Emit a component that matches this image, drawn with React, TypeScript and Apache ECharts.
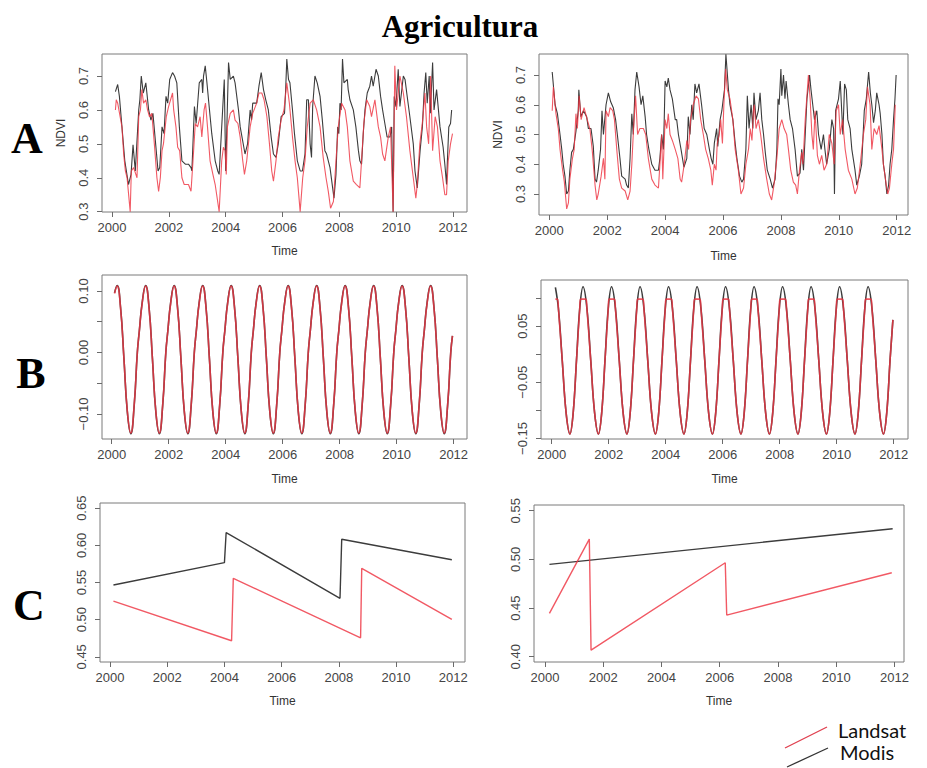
import React, { useEffect, useRef } from "react";
import * as echarts from "echarts";

// ---- tick values ----
const yearTicks = [2000, 2002, 2004, 2006, 2008, 2010, 2012];
const ticksA = [0.3, 0.4, 0.5, 0.6, 0.7];
const ticksB1 = [-0.1, -0.05, 0, 0.05, 0.1];
const labelsB1 = [-0.1, 0, 0.1];
const ticksB2 = [-0.15, -0.1, -0.05, 0, 0.05, 0.1];
const labelsB2 = [-0.15, -0.05, 0.05];
const ticksC1 = [0.45, 0.5, 0.55, 0.6, 0.65];
const ticksC2 = [0.4, 0.45, 0.5, 0.55];

// ---- A: NDVI series (left) ----
const modisA1: number[][] = [[2000.12,0.654],[2000.20,0.675],[2000.26,0.640],[2000.35,0.55],[2000.45,0.45],[2000.58,0.38],[2000.67,0.41],[2000.74,0.497],[2000.82,0.42],[2000.94,0.60],[2000.98,0.63],[2001.03,0.70],[2001.10,0.65],[2001.19,0.68],[2001.29,0.60],[2001.37,0.57],[2001.44,0.59],[2001.62,0.42],[2001.68,0.43],[2001.76,0.55],[2001.83,0.53],[2001.90,0.64],[2001.96,0.62],[2002.03,0.69],[2002.13,0.71],[2002.20,0.70],[2002.28,0.68],[2002.37,0.55],[2002.46,0.45],[2002.58,0.44],[2002.69,0.44],[2002.78,0.43],[2002.81,0.42],[2002.90,0.61],[2002.96,0.56],[2003.07,0.68],[2003.16,0.69],[2003.19,0.65],[2003.22,0.70],[2003.28,0.73],[2003.34,0.68],[2003.43,0.60],[2003.51,0.53],[2003.63,0.45],[2003.72,0.42],[2003.77,0.41],[2003.95,0.69],[2004.00,0.42],[2004.10,0.74],[2004.16,0.69],[2004.27,0.70],[2004.33,0.68],[2004.45,0.60],[2004.51,0.55],[2004.68,0.47],[2004.77,0.50],[2004.86,0.60],[2004.91,0.57],[2004.95,0.62],[2005.09,0.62],[2005.17,0.67],[2005.25,0.71],[2005.33,0.66],[2005.41,0.63],[2005.50,0.60],[2005.60,0.52],[2005.68,0.47],[2005.77,0.46],[2005.85,0.50],[2005.95,0.58],[2006.07,0.59],[2006.11,0.66],[2006.15,0.75],[2006.21,0.69],[2006.26,0.68],[2006.35,0.60],[2006.42,0.53],[2006.52,0.45],[2006.62,0.42],[2006.70,0.42],[2006.79,0.47],[2006.85,0.63],[2006.91,0.63],[2006.97,0.50],[2007.02,0.46],[2007.06,0.61],[2007.14,0.70],[2007.22,0.68],[2007.32,0.64],[2007.40,0.57],[2007.49,0.48],[2007.55,0.47],[2007.67,0.43],[2007.81,0.34],[2007.88,0.41],[2007.94,0.55],[2007.98,0.53],[2008.02,0.62],[2008.06,0.60],[2008.11,0.75],[2008.16,0.68],[2008.28,0.69],[2008.31,0.66],[2008.37,0.63],[2008.49,0.60],[2008.58,0.55],[2008.67,0.48],[2008.72,0.45],[2008.78,0.44],[2008.84,0.53],[2008.90,0.60],[2008.98,0.65],[2009.07,0.67],[2009.13,0.70],[2009.19,0.67],[2009.29,0.72],[2009.37,0.70],[2009.45,0.64],[2009.52,0.60],[2009.60,0.56],[2009.68,0.52],[2009.78,0.52],[2009.84,0.55],[2009.89,0.30],[2009.93,0.64],[2009.99,0.61],[2010.07,0.72],[2010.13,0.61],[2010.25,0.70],[2010.31,0.69],[2010.37,0.65],[2010.48,0.58],[2010.60,0.50],[2010.66,0.42],[2010.74,0.37],[2010.84,0.48],[2010.92,0.55],[2010.98,0.65],[2011.04,0.71],[2011.09,0.62],[2011.16,0.70],[2011.20,0.59],[2011.28,0.74],[2011.33,0.60],[2011.42,0.66],[2011.54,0.55],[2011.65,0.49],[2011.71,0.44],[2011.77,0.38],[2011.80,0.45],[2011.85,0.55],[2011.91,0.56],[2011.95,0.60]];
const landsatA1: number[][] = [[2000.12,0.60],[2000.15,0.63],[2000.20,0.62],[2000.35,0.55],[2000.41,0.47],[2000.47,0.42],[2000.53,0.40],[2000.64,0.30],[2000.68,0.42],[2000.76,0.43],[2000.88,0.40],[2000.94,0.58],[2001.00,0.60],[2001.05,0.66],[2001.11,0.62],[2001.19,0.63],[2001.25,0.60],[2001.32,0.58],[2001.40,0.59],[2001.49,0.50],[2001.58,0.40],[2001.64,0.36],[2001.70,0.40],[2001.76,0.48],[2001.81,0.50],[2001.91,0.58],[2001.99,0.61],[2002.13,0.65],[2002.17,0.60],[2002.25,0.55],[2002.31,0.49],[2002.38,0.48],[2002.46,0.40],[2002.54,0.38],[2002.69,0.38],[2002.78,0.36],[2002.85,0.45],[2002.93,0.56],[2003.01,0.55],[2003.10,0.58],[2003.16,0.52],[2003.24,0.60],[2003.29,0.62],[2003.36,0.55],[2003.45,0.45],[2003.55,0.41],[2003.63,0.38],[2003.77,0.30],[2003.86,0.45],[2003.92,0.49],[2003.98,0.48],[2004.02,0.41],[2004.06,0.55],[2004.16,0.59],[2004.27,0.60],[2004.33,0.57],[2004.43,0.56],[2004.51,0.52],[2004.60,0.45],[2004.66,0.41],[2004.74,0.45],[2004.86,0.55],[2004.95,0.59],[2005.09,0.62],[2005.17,0.65],[2005.27,0.65],[2005.35,0.63],[2005.45,0.58],[2005.54,0.50],[2005.62,0.42],[2005.68,0.39],[2005.77,0.45],[2005.85,0.52],[2005.95,0.57],[2006.05,0.60],[2006.15,0.68],[2006.24,0.62],[2006.35,0.52],[2006.44,0.45],[2006.52,0.40],[2006.62,0.30],[2006.71,0.40],[2006.79,0.45],[2006.87,0.55],[2006.97,0.62],[2007.08,0.63],[2007.20,0.60],[2007.32,0.55],[2007.43,0.46],[2007.53,0.40],[2007.61,0.36],[2007.69,0.31],[2007.79,0.33],[2007.88,0.45],[2007.96,0.55],[2008.08,0.62],[2008.20,0.60],[2008.28,0.55],[2008.37,0.45],[2008.49,0.39],[2008.60,0.38],[2008.72,0.37],[2008.78,0.45],[2008.86,0.56],[2008.96,0.63],[2009.07,0.61],[2009.13,0.58],[2009.25,0.63],[2009.37,0.55],[2009.45,0.52],[2009.52,0.47],[2009.60,0.45],[2009.72,0.52],[2009.80,0.55],[2009.89,0.30],[2009.95,0.73],[2010.01,0.60],[2010.13,0.70],[2010.25,0.65],[2010.36,0.58],[2010.48,0.48],[2010.60,0.40],[2010.69,0.34],[2010.74,0.38],[2010.83,0.50],[2010.93,0.57],[2011.01,0.65],[2011.07,0.55],[2011.14,0.50],[2011.21,0.70],[2011.28,0.48],[2011.37,0.58],[2011.45,0.55],[2011.54,0.45],[2011.63,0.40],[2011.71,0.35],[2011.77,0.35],[2011.83,0.45],[2011.91,0.50],[2011.98,0.53]];

// ---- A: NDVI series (right) ----
const modisA2: number[][] = [[2000.10,0.71],[2000.20,0.60],[2000.28,0.57],[2000.37,0.50],[2000.43,0.45],[2000.48,0.40],[2000.54,0.36],[2000.60,0.30],[2000.66,0.31],[2000.71,0.38],[2000.77,0.44],[2000.83,0.45],[2000.92,0.51],[2001.00,0.58],[2001.02,0.65],[2001.09,0.56],[2001.18,0.58],[2001.29,0.56],[2001.35,0.52],[2001.44,0.52],[2001.52,0.46],[2001.58,0.35],[2001.63,0.34],[2001.69,0.38],[2001.77,0.45],[2001.82,0.58],[2001.87,0.50],[2001.96,0.60],[2002.04,0.64],[2002.12,0.61],[2002.21,0.59],[2002.29,0.55],[2002.35,0.50],[2002.44,0.42],[2002.50,0.36],[2002.62,0.35],[2002.67,0.33],[2002.73,0.32],[2002.79,0.42],[2002.85,0.57],[2002.90,0.50],[2002.96,0.65],[2003.02,0.71],[2003.10,0.66],[2003.17,0.60],[2003.23,0.63],[2003.31,0.56],[2003.36,0.50],[2003.44,0.45],[2003.54,0.40],[2003.65,0.38],[2003.77,0.38],[2003.82,0.42],[2003.88,0.50],[2003.94,0.45],[2003.97,0.55],[2004.00,0.68],[2004.06,0.66],[2004.11,0.69],[2004.17,0.65],[2004.25,0.62],[2004.35,0.55],[2004.40,0.55],[2004.46,0.50],[2004.55,0.45],[2004.65,0.39],[2004.75,0.42],[2004.80,0.56],[2004.86,0.50],[2004.92,0.60],[2004.97,0.55],[2005.03,0.67],[2005.09,0.64],[2005.17,0.67],[2005.26,0.60],[2005.35,0.52],[2005.44,0.50],[2005.53,0.45],[2005.59,0.42],[2005.65,0.40],[2005.70,0.47],[2005.78,0.52],[2005.82,0.46],[2005.90,0.55],[2005.96,0.58],[2006.01,0.62],[2006.05,0.65],[2006.10,0.77],[2006.19,0.65],[2006.24,0.60],[2006.34,0.55],[2006.42,0.47],[2006.48,0.42],[2006.57,0.36],[2006.65,0.34],[2006.71,0.35],[2006.79,0.45],[2006.84,0.63],[2006.90,0.52],[2006.97,0.60],[2007.03,0.52],[2007.07,0.64],[2007.14,0.55],[2007.22,0.58],[2007.28,0.64],[2007.34,0.55],[2007.40,0.50],[2007.46,0.44],[2007.53,0.38],[2007.63,0.35],[2007.71,0.32],[2007.80,0.35],[2007.86,0.45],[2007.90,0.62],[2007.94,0.60],[2008.00,0.72],[2008.03,0.63],[2008.09,0.70],[2008.14,0.62],[2008.18,0.68],[2008.26,0.60],[2008.32,0.55],[2008.40,0.52],[2008.49,0.45],[2008.57,0.36],[2008.66,0.37],[2008.72,0.45],[2008.78,0.38],[2008.84,0.50],[2008.90,0.62],[2008.99,0.70],[2009.04,0.65],[2009.10,0.60],[2009.16,0.55],[2009.24,0.58],[2009.30,0.50],[2009.39,0.45],[2009.47,0.50],[2009.52,0.45],[2009.58,0.40],[2009.67,0.45],[2009.76,0.55],[2009.82,0.52],[2009.85,0.30],[2009.89,0.58],[2009.99,0.62],[2010.05,0.68],[2010.10,0.58],[2010.14,0.50],[2010.20,0.67],[2010.26,0.65],[2010.31,0.55],[2010.39,0.52],[2010.45,0.45],[2010.56,0.38],[2010.62,0.33],[2010.71,0.36],[2010.79,0.40],[2010.88,0.58],[2010.95,0.62],[2011.03,0.71],[2011.09,0.64],[2011.14,0.60],[2011.20,0.54],[2011.26,0.58],[2011.31,0.64],[2011.39,0.60],[2011.43,0.57],[2011.49,0.50],[2011.54,0.40],[2011.60,0.36],[2011.66,0.30],[2011.72,0.33],[2011.77,0.40],[2011.83,0.45],[2011.89,0.55],[2011.94,0.62],[2011.98,0.70]];
const landsatA2: number[][] = [[2000.10,0.58],[2000.14,0.66],[2000.23,0.57],[2000.31,0.52],[2000.37,0.45],[2000.46,0.38],[2000.52,0.34],[2000.60,0.25],[2000.66,0.27],[2000.71,0.35],[2000.80,0.42],[2000.86,0.45],[2000.92,0.57],[2000.97,0.52],[2001.03,0.63],[2001.10,0.55],[2001.20,0.59],[2001.31,0.55],[2001.40,0.52],[2001.48,0.45],[2001.58,0.33],[2001.64,0.28],[2001.69,0.30],[2001.79,0.36],[2001.87,0.42],[2001.92,0.35],[2001.96,0.58],[2002.04,0.56],[2002.10,0.59],[2002.19,0.58],[2002.25,0.55],[2002.33,0.45],[2002.42,0.35],[2002.50,0.32],[2002.62,0.31],[2002.71,0.28],[2002.79,0.31],[2002.85,0.40],[2002.90,0.50],[2002.98,0.63],[2003.05,0.50],[2003.13,0.52],[2003.25,0.52],[2003.33,0.50],[2003.42,0.42],[2003.54,0.35],[2003.65,0.33],[2003.77,0.32],[2003.82,0.40],[2003.88,0.50],[2003.92,0.35],[2004.00,0.55],[2004.06,0.52],[2004.11,0.57],[2004.17,0.50],[2004.25,0.48],[2004.35,0.45],[2004.44,0.42],[2004.52,0.35],[2004.57,0.34],[2004.66,0.40],[2004.75,0.48],[2004.81,0.45],[2004.88,0.55],[2004.97,0.60],[2005.07,0.63],[2005.15,0.62],[2005.23,0.55],[2005.32,0.50],[2005.40,0.45],[2005.49,0.42],[2005.58,0.38],[2005.63,0.33],[2005.70,0.40],[2005.76,0.38],[2005.80,0.47],[2005.87,0.50],[2005.92,0.55],[2005.98,0.47],[2006.03,0.60],[2006.09,0.72],[2006.15,0.65],[2006.24,0.62],[2006.34,0.55],[2006.42,0.45],[2006.53,0.38],[2006.62,0.30],[2006.71,0.32],[2006.79,0.40],[2006.88,0.45],[2006.94,0.52],[2007.00,0.48],[2007.05,0.58],[2007.08,0.60],[2007.14,0.52],[2007.22,0.55],[2007.30,0.50],[2007.40,0.42],[2007.51,0.35],[2007.60,0.30],[2007.68,0.28],[2007.76,0.33],[2007.86,0.42],[2007.94,0.52],[2008.03,0.55],[2008.11,0.52],[2008.20,0.50],[2008.26,0.45],[2008.34,0.38],[2008.43,0.34],[2008.51,0.33],[2008.57,0.30],[2008.64,0.38],[2008.72,0.44],[2008.76,0.40],[2008.84,0.55],[2008.95,0.70],[2009.01,0.62],[2009.07,0.50],[2009.12,0.45],[2009.18,0.58],[2009.26,0.43],[2009.33,0.40],[2009.41,0.43],[2009.49,0.38],[2009.58,0.40],[2009.67,0.50],[2009.76,0.47],[2009.84,0.40],[2009.91,0.58],[2009.99,0.60],[2010.05,0.50],[2010.13,0.55],[2010.22,0.45],[2010.33,0.38],[2010.45,0.35],[2010.56,0.30],[2010.64,0.32],[2010.74,0.40],[2010.85,0.50],[2010.93,0.55],[2010.99,0.66],[2011.08,0.60],[2011.14,0.45],[2011.22,0.52],[2011.31,0.50],[2011.39,0.53],[2011.49,0.45],[2011.54,0.40],[2011.64,0.33],[2011.69,0.30],[2011.75,0.32],[2011.83,0.40],[2011.89,0.45],[2011.95,0.60]];

// ---- B: seasonal component (left), read at peaks, troughs and flanks ----
const landsatB1: number[][] = [
  [2000.10,0.096],[2000.19,0.108],[2000.31,0.073],[2000.43,-0.010],[2000.55,-0.096],[2000.67,-0.131],[2000.79,-0.085],[2000.90,0.000],[2000.97,0.035],
  [2001.07,0.080],[2001.19,0.108],[2001.31,0.073],[2001.43,-0.010],[2001.55,-0.096],[2001.67,-0.131],[2001.79,-0.085],[2001.90,0.000],[2001.97,0.035],
  [2002.07,0.080],[2002.19,0.108],[2002.31,0.073],[2002.43,-0.010],[2002.55,-0.096],[2002.67,-0.131],[2002.79,-0.085],[2002.90,0.000],[2002.97,0.035],
  [2003.07,0.080],[2003.19,0.108],[2003.31,0.073],[2003.43,-0.010],[2003.55,-0.096],[2003.67,-0.131],[2003.79,-0.085],[2003.90,0.000],[2003.97,0.035],
  [2004.07,0.080],[2004.19,0.108],[2004.31,0.073],[2004.43,-0.010],[2004.55,-0.096],[2004.67,-0.131],[2004.79,-0.085],[2004.90,0.000],[2004.97,0.035],
  [2005.07,0.080],[2005.19,0.108],[2005.31,0.073],[2005.43,-0.010],[2005.55,-0.096],[2005.67,-0.131],[2005.79,-0.085],[2005.90,0.000],[2005.97,0.035],
  [2006.07,0.080],[2006.19,0.108],[2006.31,0.073],[2006.43,-0.010],[2006.55,-0.096],[2006.67,-0.131],[2006.79,-0.085],[2006.90,0.000],[2006.97,0.035],
  [2007.07,0.080],[2007.19,0.108],[2007.31,0.073],[2007.43,-0.010],[2007.55,-0.096],[2007.67,-0.131],[2007.79,-0.085],[2007.90,0.000],[2007.97,0.035],
  [2008.07,0.080],[2008.19,0.108],[2008.31,0.073],[2008.43,-0.010],[2008.55,-0.096],[2008.67,-0.131],[2008.79,-0.085],[2008.90,0.000],[2008.97,0.035],
  [2009.07,0.080],[2009.19,0.108],[2009.31,0.073],[2009.43,-0.010],[2009.55,-0.096],[2009.67,-0.131],[2009.79,-0.085],[2009.90,0.000],[2009.97,0.035],
  [2010.07,0.080],[2010.19,0.108],[2010.31,0.073],[2010.43,-0.010],[2010.55,-0.096],[2010.67,-0.131],[2010.79,-0.085],[2010.90,0.000],[2010.97,0.035],
  [2011.07,0.080],[2011.19,0.108],[2011.31,0.073],[2011.43,-0.010],[2011.55,-0.096],[2011.67,-0.131],[2011.79,-0.085],[2011.90,0.000],[2011.96,0.027]
];
const modisB1: number[][] = [
  [2000.10,0.097],[2000.19,0.109],[2000.31,0.074],[2000.43,-0.010],[2000.55,-0.097],[2000.67,-0.132],[2000.79,-0.086],[2000.90,0.000],[2000.97,0.035],
  [2001.07,0.081],[2001.19,0.109],[2001.31,0.074],[2001.43,-0.010],[2001.55,-0.097],[2001.67,-0.132],[2001.79,-0.086],[2001.90,0.000],[2001.97,0.035],
  [2002.07,0.081],[2002.19,0.109],[2002.31,0.074],[2002.43,-0.010],[2002.55,-0.097],[2002.67,-0.132],[2002.79,-0.086],[2002.90,0.000],[2002.97,0.035],
  [2003.07,0.081],[2003.19,0.109],[2003.31,0.074],[2003.43,-0.010],[2003.55,-0.097],[2003.67,-0.132],[2003.79,-0.086],[2003.90,0.000],[2003.97,0.035],
  [2004.07,0.081],[2004.19,0.109],[2004.31,0.074],[2004.43,-0.010],[2004.55,-0.097],[2004.67,-0.132],[2004.79,-0.086],[2004.90,0.000],[2004.97,0.035],
  [2005.07,0.081],[2005.19,0.109],[2005.31,0.074],[2005.43,-0.010],[2005.55,-0.097],[2005.67,-0.132],[2005.79,-0.086],[2005.90,0.000],[2005.97,0.035],
  [2006.07,0.081],[2006.19,0.109],[2006.31,0.074],[2006.43,-0.010],[2006.55,-0.097],[2006.67,-0.132],[2006.79,-0.086],[2006.90,0.000],[2006.97,0.035],
  [2007.07,0.081],[2007.19,0.109],[2007.31,0.074],[2007.43,-0.010],[2007.55,-0.097],[2007.67,-0.132],[2007.79,-0.086],[2007.90,0.000],[2007.97,0.035],
  [2008.07,0.081],[2008.19,0.109],[2008.31,0.074],[2008.43,-0.010],[2008.55,-0.097],[2008.67,-0.132],[2008.79,-0.086],[2008.90,0.000],[2008.97,0.035],
  [2009.07,0.081],[2009.19,0.109],[2009.31,0.074],[2009.43,-0.010],[2009.55,-0.097],[2009.67,-0.132],[2009.79,-0.086],[2009.90,0.000],[2009.97,0.035],
  [2010.07,0.081],[2010.19,0.109],[2010.31,0.074],[2010.43,-0.010],[2010.55,-0.097],[2010.67,-0.132],[2010.79,-0.086],[2010.90,0.000],[2010.97,0.035],
  [2011.07,0.081],[2011.19,0.109],[2011.31,0.074],[2011.43,-0.010],[2011.55,-0.097],[2011.67,-0.132],[2011.79,-0.086],[2011.90,0.000],[2011.96,0.027]
];

// ---- B: seasonal component (right) ----
const modisB2: number[][] = [
  [2000.13,0.119],[2000.235,0.082],[2000.37,-0.011],[2000.505,-0.104],[2000.64,-0.142],[2000.755,-0.104],[2000.87,-0.011],[2000.985,0.082],
  [2001.10,0.120],[2001.235,0.082],[2001.37,-0.011],[2001.505,-0.104],[2001.64,-0.142],[2001.755,-0.104],[2001.87,-0.011],[2001.985,0.082],
  [2002.10,0.120],[2002.235,0.082],[2002.37,-0.011],[2002.505,-0.104],[2002.64,-0.142],[2002.755,-0.104],[2002.87,-0.011],[2002.985,0.082],
  [2003.10,0.120],[2003.235,0.082],[2003.37,-0.011],[2003.505,-0.104],[2003.64,-0.142],[2003.755,-0.104],[2003.87,-0.011],[2003.985,0.082],
  [2004.10,0.120],[2004.235,0.082],[2004.37,-0.011],[2004.505,-0.104],[2004.64,-0.142],[2004.755,-0.104],[2004.87,-0.011],[2004.985,0.082],
  [2005.10,0.120],[2005.235,0.082],[2005.37,-0.011],[2005.505,-0.104],[2005.64,-0.142],[2005.755,-0.104],[2005.87,-0.011],[2005.985,0.082],
  [2006.10,0.120],[2006.235,0.082],[2006.37,-0.011],[2006.505,-0.104],[2006.64,-0.142],[2006.755,-0.104],[2006.87,-0.011],[2006.985,0.082],
  [2007.10,0.120],[2007.235,0.082],[2007.37,-0.011],[2007.505,-0.104],[2007.64,-0.142],[2007.755,-0.104],[2007.87,-0.011],[2007.985,0.082],
  [2008.10,0.120],[2008.235,0.082],[2008.37,-0.011],[2008.505,-0.104],[2008.64,-0.142],[2008.755,-0.104],[2008.87,-0.011],[2008.985,0.082],
  [2009.10,0.120],[2009.235,0.082],[2009.37,-0.011],[2009.505,-0.104],[2009.64,-0.142],[2009.755,-0.104],[2009.87,-0.011],[2009.985,0.082],
  [2010.10,0.120],[2010.235,0.082],[2010.37,-0.011],[2010.505,-0.104],[2010.64,-0.142],[2010.755,-0.104],[2010.87,-0.011],[2010.985,0.082],
  [2011.10,0.120],[2011.235,0.082],[2011.37,-0.011],[2011.505,-0.104],[2011.64,-0.142],[2011.755,-0.104],[2011.87,-0.011],[2011.97,0.061]
];
const landsatB2: number[][] = [
  [2000.13,0.098],[2000.20,0.098],[2000.235,0.082],[2000.37,-0.011],[2000.505,-0.104],[2000.64,-0.142],[2000.755,-0.104],[2000.87,-0.011],[2000.985,0.082],[2001.013,0.098],
  [2001.20,0.098],[2001.235,0.082],[2001.37,-0.011],[2001.505,-0.104],[2001.64,-0.142],[2001.755,-0.104],[2001.87,-0.011],[2001.985,0.082],[2002.013,0.098],
  [2002.20,0.098],[2002.235,0.082],[2002.37,-0.011],[2002.505,-0.104],[2002.64,-0.142],[2002.755,-0.104],[2002.87,-0.011],[2002.985,0.082],[2003.013,0.098],
  [2003.20,0.098],[2003.235,0.082],[2003.37,-0.011],[2003.505,-0.104],[2003.64,-0.142],[2003.755,-0.104],[2003.87,-0.011],[2003.985,0.082],[2004.013,0.098],
  [2004.20,0.098],[2004.235,0.082],[2004.37,-0.011],[2004.505,-0.104],[2004.64,-0.142],[2004.755,-0.104],[2004.87,-0.011],[2004.985,0.082],[2005.013,0.098],
  [2005.20,0.098],[2005.235,0.082],[2005.37,-0.011],[2005.505,-0.104],[2005.64,-0.142],[2005.755,-0.104],[2005.87,-0.011],[2005.985,0.082],[2006.013,0.098],
  [2006.20,0.098],[2006.235,0.082],[2006.37,-0.011],[2006.505,-0.104],[2006.64,-0.142],[2006.755,-0.104],[2006.87,-0.011],[2006.985,0.082],[2007.013,0.098],
  [2007.20,0.098],[2007.235,0.082],[2007.37,-0.011],[2007.505,-0.104],[2007.64,-0.142],[2007.755,-0.104],[2007.87,-0.011],[2007.985,0.082],[2008.013,0.098],
  [2008.20,0.098],[2008.235,0.082],[2008.37,-0.011],[2008.505,-0.104],[2008.64,-0.142],[2008.755,-0.104],[2008.87,-0.011],[2008.985,0.082],[2009.013,0.098],
  [2009.20,0.098],[2009.235,0.082],[2009.37,-0.011],[2009.505,-0.104],[2009.64,-0.142],[2009.755,-0.104],[2009.87,-0.011],[2009.985,0.082],[2010.013,0.098],
  [2010.20,0.098],[2010.235,0.082],[2010.37,-0.011],[2010.505,-0.104],[2010.64,-0.142],[2010.755,-0.104],[2010.87,-0.011],[2010.985,0.082],[2011.013,0.098],
  [2011.20,0.098],[2011.235,0.082],[2011.37,-0.011],[2011.505,-0.104],[2011.64,-0.142],[2011.755,-0.104],[2011.87,-0.011],[2011.97,0.061]
];

// ---- C: trend component ----
const modisC1: number[][] = [[2000.12,0.5466],[2004.00,0.5767],[2004.06,0.6172],[2008.04,0.5287],[2008.10,0.6082],[2011.95,0.5806]];
const landsatC1: number[][] = [[2000.12,0.5250],[2004.25,0.4716],[2004.31,0.5556],[2008.76,0.4756],[2008.80,0.5690],[2011.95,0.5005]];
const modisC2: number[][] = [[2000.15,0.4949],[2011.94,0.5315]];
const landsatC2: number[][] = [[2000.15,0.4445],[2001.52,0.5209],[2001.58,0.4068],[2006.19,0.4966],[2006.24,0.4428],[2011.91,0.4863]];

const RED = "rgba(238,52,66,0.82)";
const BLACK = "#3c3c3c";
const SANS = "'Liberation Sans', Arial, sans-serif";
const SERIF = "'Liberation Serif', 'Times New Roman', serif";

const fmt = (d: number) => (v: number) => v.toFixed(d).replace("-", "\u2212");

const panels = [
  { box: [102, 54, 365, 158], x: [1999.648, 2012.49], y: [0.299, 0.765], yTicks: ticksA, yLabels: ticksA, dec: 1, ndvi: true, gap: 33, modis: modisA1, landsat: landsatA1, smooth: 0, lw: 1.1 },
  { box: [539, 54, 369, 161], x: [1999.644, 2012.39], y: [0.2294, 0.7706], yTicks: ticksA, yLabels: ticksA, dec: 1, ndvi: true, gap: 35, modis: modisA2, landsat: landsatA2, smooth: 0, lw: 1.1 },
  { box: [102, 275, 365, 164], x: [1999.66, 2012.47], y: [-0.1407, 0.126], yTicks: ticksB1, yLabels: labelsB1, dec: 2, ndvi: false, gap: 34, modis: modisB1, landsat: landsatB1, smooth: 0.5, lw: 1.6 },
  { box: [541, 280, 367, 159], x: [1999.625, 2012.5], y: [-0.151, 0.132], yTicks: ticksB2, yLabels: labelsB2, dec: 2, ndvi: false, gap: 34, modis: modisB2, landsat: landsatB2, smooth: 0.4, lw: 1.6 },
  { box: [100, 503, 365, 159], x: [1999.65, 2012.41], y: [0.443, 0.657], yTicks: ticksC1, yLabels: ticksC1, dec: 2, ndvi: false, gap: 33, modis: modisC1, landsat: landsatC1, smooth: 0, lw: 1.4 },
  { box: [534, 505, 370, 157], x: [1999.62, 2012.33], y: [0.3946, 0.5559], yTicks: ticksC2, yLabels: ticksC2, dec: 2, ndvi: false, gap: 33, modis: modisC2, landsat: landsatC2, smooth: 0, lw: 1.4 },
];

function buildOption() {
  const grid: any[] = [];
  const xAxis: any[] = [];
  const yAxis: any[] = [];
  const series: any[] = [];
  panels.forEach((p, i) => {
    grid.push({ left: p.box[0], top: p.box[1], width: p.box[2], height: p.box[3], show: true, borderColor: "#7a7a7a", borderWidth: 1, backgroundColor: "transparent", containLabel: false });
    xAxis.push({
      type: "value", gridIndex: i, min: p.x[0], max: p.x[1],
      axisLine: { show: false, onZero: false },
      splitLine: { show: false },
      axisTick: { show: true, inside: false, length: 5, lineStyle: { color: "#6a6a6a" }, customValues: yearTicks },
      axisLabel: { show: true, margin: 9, fontSize: 13, color: "#444", fontFamily: SANS, customValues: yearTicks, formatter: (v: number) => String(v) },
      name: "Time", nameLocation: "middle", nameGap: p.gap,
      nameTextStyle: { fontSize: 12, color: "#333", fontFamily: SANS },
    });
    yAxis.push({
      type: "value", gridIndex: i, min: p.y[0], max: p.y[1],
      axisLine: { show: false, onZero: false },
      splitLine: { show: false },
      axisTick: { show: true, inside: false, length: 5, lineStyle: { color: "#6a6a6a" }, customValues: p.yTicks },
      axisLabel: { show: true, rotate: 90, margin: 12, fontSize: 13, color: "#444", fontFamily: SANS, customValues: p.yLabels, formatter: fmt(p.dec) },
      name: p.ndvi ? "NDVI" : "", nameLocation: "middle", nameGap: 35,
      nameTextStyle: { fontSize: 12, color: "#333", fontFamily: SANS },
    });
    series.push({
      name: "Modis", type: "line", xAxisIndex: i, yAxisIndex: i, data: p.modis,
      showSymbol: false, symbol: "none", smooth: p.smooth, clip: true,
      lineStyle: { color: BLACK, width: p.lw }, z: 2,
    });
    series.push({
      name: "Landsat", type: "line", xAxisIndex: i, yAxisIndex: i, data: p.landsat,
      showSymbol: false, symbol: "none", smooth: p.smooth, clip: true,
      lineStyle: { color: RED, width: p.lw }, z: 3,
    });
  });

  const graphic: any[] = [
    { type: "text", x: 460, y: 26, style: { text: "Agricultura", fontFamily: "Liberation Serif", fontWeight: "bold", fontSize: 31, fill: "#000", textAlign: "center", textVerticalAlign: "middle" } },
    { type: "text", x: 27, y: 138, style: { text: "A", fontFamily: "Liberation Serif", fontWeight: "bold", fontSize: 44, fill: "#000", textAlign: "center", textVerticalAlign: "middle" } },
    { type: "text", x: 31, y: 373, style: { text: "B", fontFamily: "Liberation Serif", fontWeight: "bold", fontSize: 44, fill: "#000", textAlign: "center", textVerticalAlign: "middle" } },
    { type: "text", x: 29, y: 605, style: { text: "C", fontFamily: "Liberation Serif", fontWeight: "bold", fontSize: 44, fill: "#000", textAlign: "center", textVerticalAlign: "middle" } },
    { type: "line", shape: { x1: 785, y1: 748, x2: 827, y2: 727 }, style: { stroke: "#e0404f", lineWidth: 1.3 } },
    { type: "line", shape: { x1: 787, y1: 767, x2: 828, y2: 748 }, style: { stroke: "#333", lineWidth: 1.3 } },
    { type: "text", x: 838, y: 730, style: { text: "Landsat", fontFamily: "Lato", fontSize: 20, fill: "#111", textVerticalAlign: "middle" } },
    { type: "text", x: 840, y: 752, style: { text: "Modis", fontFamily: "Lato", fontSize: 20, fill: "#111", textVerticalAlign: "middle" } },
  ];

  return { animation: false, backgroundColor: "#fff", grid, xAxis, yAxis, series, graphic };
}

export default function App() {
  const ref = useRef<HTMLDivElement>(null);
  useEffect(() => {
    document.body.style.margin = "0";
    const chart = echarts.init(ref.current!, null, { renderer: "svg" });
    chart.setOption(buildOption() as any);
    return () => chart.dispose();
  }, []);
  return <div ref={ref} style={{ width: 927, height: 768 }} />;
}
